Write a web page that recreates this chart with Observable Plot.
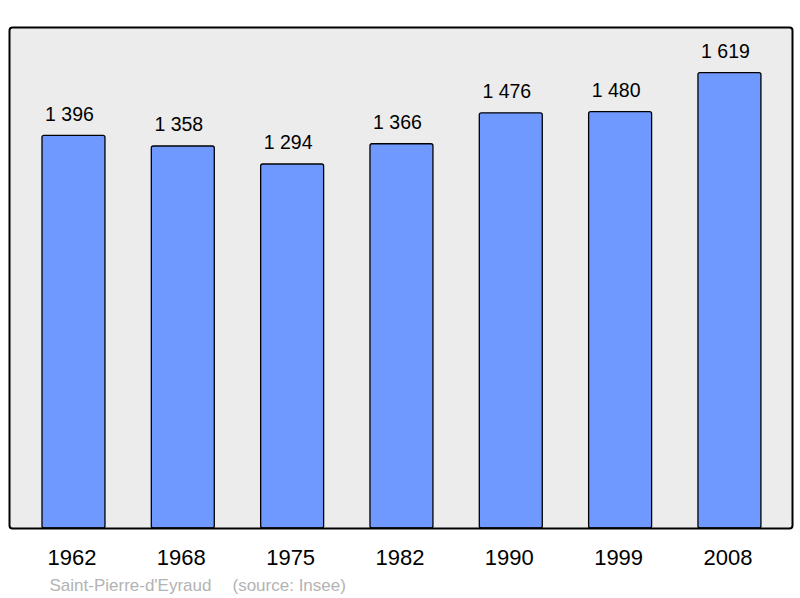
<!DOCTYPE html>
<html>
<head>
<meta charset="utf-8">
<script src="https://cdn.jsdelivr.net/npm/d3@7"></script>
<script src="https://cdn.jsdelivr.net/npm/@observablehq/plot@0.6"></script>
<style>
  body { margin: 0; background: #fff; }
  svg { font-family: "Liberation Sans", Arial, sans-serif; }
</style>
</head>
<body>
<div id="chart"></div>
<script>
const years = ["1962", "1968", "1975", "1982", "1990", "1999", "2008"];
const population = [1396, 1358, 1294, 1366, 1476, 1480, 1619];
const commune = "Saint-Pierre-d'Eyraud";
const source = "(source: Insee)";

const data = years.map((year, i) => ({year, pop: population[i]}));
const fmt = v => d3.format(",")(v).replace(/,/g, " ");

const chart = Plot.plot({
  width: 800,
  height: 598,
  marginLeft: 9,
  marginRight: 8,
  marginTop: 27,
  marginBottom: 70,
  style: {fontFamily: "Liberation Sans, Arial, sans-serif", background: "#fff"},
  x: {domain: years, paddingInner: 0.424, paddingOuter: 0.293, align: 0.515, round: false},
  y: {domain: [0, 1781], axis: null},
  marks: [
    Plot.frame({fill: "#ececec", stroke: "none", rx: 3}),
    Plot.barY(data, {x: "year", y: "pop", fill: "#7099ff", stroke: "#000", strokeWidth: 1.3, rx: 2}),
    Plot.text(data, {x: "year", y: "pop", text: d => fmt(d.pop), lineAnchor: "bottom", dx: -4.5, dy: -15, fontSize: 19.5, fill: "#000"}),
    Plot.axisX({tickSize: 0, tickPadding: 21, fontSize: 22, dx: -2, label: null, color: "#000"}),
    Plot.frame({stroke: "#000", strokeWidth: 2, rx: 3}),
    Plot.text([commune], {frameAnchor: "bottom-left", text: d => d, textAnchor: "start", lineAnchor: "bottom", dx: 40, dy: 62, fontSize: 17, fill: "#b3b3b3"}),
    Plot.text([source], {frameAnchor: "bottom-left", text: d => d, textAnchor: "start", lineAnchor: "bottom", dx: 223, dy: 62, fontSize: 17, fill: "#b3b3b3"})
  ]
});
document.getElementById("chart").appendChild(chart);
</script>
</body>
</html>
